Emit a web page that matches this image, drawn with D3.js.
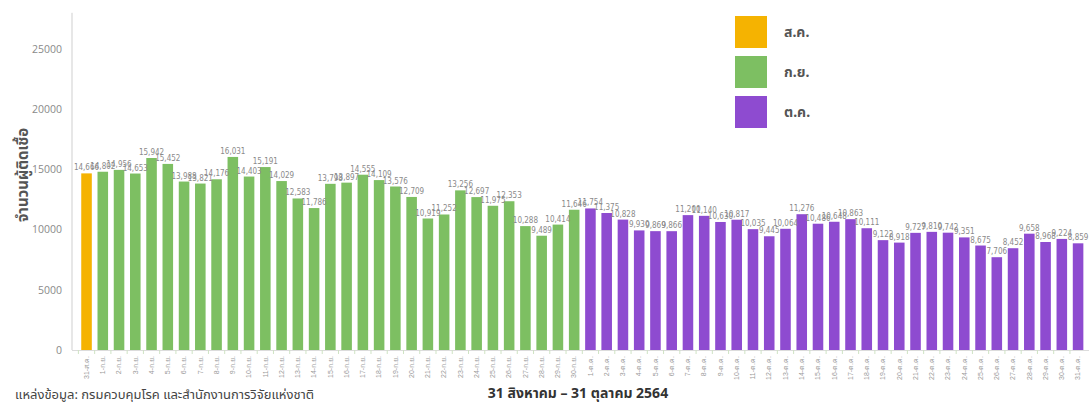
<!DOCTYPE html>
<html><head><meta charset="utf-8">
<script src="https://cdn.jsdelivr.net/npm/d3@7"></script>
<style>
html,body{margin:0;padding:0;background:#fff;}
svg{display:block;font-family:"Noto Sans","Noto Sans Thai",sans-serif;}
</style></head>
<body>
<svg id="chart" width="1089" height="403"></svg>
<script>
const augDays = ["31-ส.ค."];
const augValues = [14666];
const sepDays = d3.range(1, 31).map(d => d + "-ก.ย.");
const sepValues = [14802,14956,14653,15942,15452,13988,13821,14176,16031,14403,15191,14029,12583,11786,13798,13897,14555,14109,13576,12709,10919,11252,13256,12697,11975,12353,10288,9489,10414,11646];
const octDays = d3.range(1, 32).map(d => d + "-ต.ค.");
const octValues = [11754,11375,10828,9930,9869,9866,11200,11140,10630,10817,10035,9445,10064,11276,10486,10648,10863,10111,9122,8918,9727,9810,9742,9351,8675,7706,8452,9658,8968,9224,8859];
const yTicks = [0,5000,10000,15000,20000,25000];
const months = ["ส.ค.","ก.ย.","ต.ค."];
const monthColors = ["#F5B301","#7DBF62","#8E4BD0"];

const data = [];
[[augDays,augValues],[sepDays,sepValues],[octDays,octValues]].forEach(([days,vals],m)=>{
  days.forEach((d,i)=>data.push({label:d,value:vals[i],month:m}));
});

const svg = d3.select("#chart");
const x = d3.scaleBand().domain(data.map(d=>d.label)).range([78.4,1086.2]).paddingInner(0.35).paddingOuter(0.175);
const y = d3.scaleLinear().domain([0,28000]).range([350,12.8]);
const color = d3.scaleOrdinal().domain([0,1,2]).range(monthColors);

// y axis line
svg.append("line").attr("x1",72).attr("x2",72).attr("y1",y(28000)).attr("y2",y(0)).attr("stroke","#cfcfcf").attr("stroke-width",1);
// y tick labels
const yAxis = d3.axisLeft(y).tickValues(yTicks).tickSize(0).tickPadding(10).tickFormat(d3.format("d"));
const ya = svg.append("g").attr("transform","translate(72,0)").call(yAxis);
ya.select(".domain").remove();
ya.selectAll("text").attr("fill","#8a8a8a").attr("font-size",10.5).attr("font-family","'Open Sans',sans-serif");

// x axis
svg.append("line").attr("x1",72).attr("x2",1089).attr("y1",350.5).attr("y2",350.5).attr("stroke","#dcdcdc");
const xAxis = d3.axisBottom(x).tickSize(0).tickPadding(0);
const xa = svg.append("g").attr("transform","translate(0,350)").call(xAxis);
xa.select(".domain").remove();
xa.selectAll("text")
  .attr("transform","rotate(-90)")
  .attr("text-anchor","end")
  .attr("dy","0.32em")
  .attr("x",-6).attr("y",0)
  .attr("fill","#9a9a9a").attr("font-size",7);
// small ticks between bands
svg.append("g").selectAll("line").data(data).join("line")
  .attr("x1",d=>x(d.label)-x.step()*x.paddingInner()/2)
  .attr("x2",d=>x(d.label)-x.step()*x.paddingInner()/2)
  .attr("y1",350).attr("y2",354).attr("stroke","#cfe3c4");

// bars
svg.append("g").selectAll("rect").data(data).join("rect")
  .attr("x",d=>x(d.label)).attr("width",x.bandwidth())
  .attr("y",d=>y(d.value)).attr("height",d=>y(0)-y(d.value))
  .attr("fill",d=>color(d.month));

// value labels
const fmt = d3.format(",");
svg.append("g").selectAll("text").data(data).join("text")
  .attr("x",d=>x(d.label)+x.bandwidth()/2)
  .attr("y",d=>y(d.value)-3)
  .attr("text-anchor","middle")
  .attr("fill","#8a8a8a").attr("font-size",8)
  .attr("font-family","'Liberation Sans Narrow','DejaVu Sans Condensed',sans-serif")
  .text(d=>fmt(d.value));

// legend
const lg = svg.append("g");
months.forEach((m,i)=>{
  lg.append("rect").attr("x",735).attr("y",16+i*40).attr("width",32).attr("height",32).attr("fill",monthColors[i]);
  lg.append("text").attr("x",784).attr("y",32+i*40).attr("dy","0.35em").attr("font-size",14).attr("font-weight","bold").attr("fill","#555").text(m);
});

// y title
svg.append("text").attr("transform","translate(28,175) rotate(-90)").attr("text-anchor","middle")
  .attr("font-size",15).attr("font-weight","bold").attr("fill","#555").text("จำนวนผู้ติดเชื้อ");

// x title
svg.append("text").attr("x",578).attr("y",398).attr("text-anchor","middle")
  .attr("font-size",14).attr("font-weight","bold").attr("fill","#333").text("31 สิงหาคม – 31 ตุลาคม 2564");

// source
svg.append("text").attr("x",15).attr("y",399)
  .attr("font-size",13).attr("fill","#444").text("แหล่งข้อมูล: กรมควบคุมโรค และสำนักงานการวิจัยแห่งชาติ");
</script>
</body></html>
